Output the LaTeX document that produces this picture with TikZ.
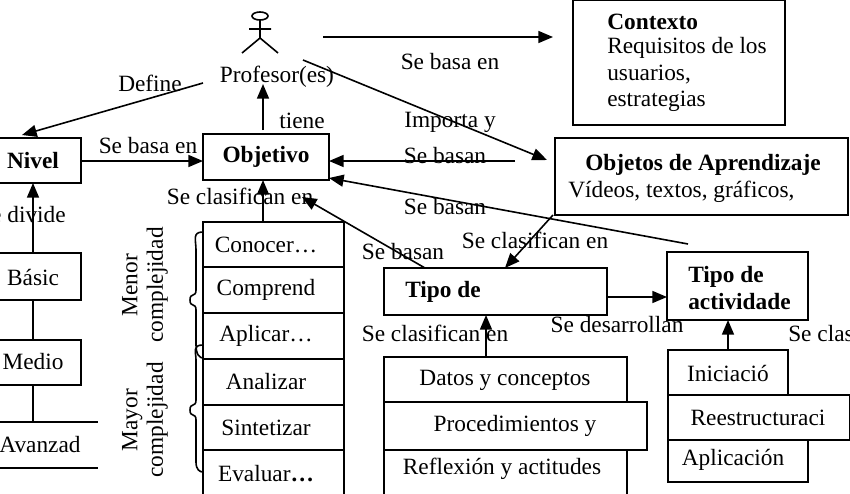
\documentclass[tikz,border=0pt]{standalone}
\usepackage{fontspec}
\setmainfont{Liberation Serif}
\usetikzlibrary{arrows.meta,decorations.pathreplacing}
\begin{document}
\begin{tikzpicture}[x=0.75pt,y=-0.75pt,
  every node/.style={font=\fontsize{17.5}{20}\selectfont, inner sep=0pt},
  box/.style={draw, line width=1.3pt},
  arr/.style={-{Triangle[length=11pt,width=9pt]}, line width=1.2pt},
  ln/.style={line width=1.2pt}]
\useasboundingbox (0,0) rectangle (850,493);
\clip (0,0) rectangle (850,493);
% actor
\draw[ln] (260,16) ellipse (8 and 4);
\draw[ln] (260,20) -- (260,38) (249,29) -- (271,29) (242,53) -- (260,38) -- (278,53);
\node (prof) at (277,77) {Profesor(es)};
% boxes
\draw[box] (-5,138) rectangle (81,183); \node[font=\fontsize{17.5}{20}\selectfont\bfseries] (niv) at (33,161) {Nivel};
\draw[box] (203,134) rectangle (329,180); \node[font=\fontsize{17.5}{20}\selectfont\bfseries] (obj) at (266,157) {Objetivo};
\draw[box] (573,0) rectangle (785,125);
\node[anchor=west] at (607,22) {\bfseries Contexto};
\node[anchor=west] at (607,48) {Requisitos de los};
\node[anchor=west] at (607,75) {usuarios,};
\node[anchor=west] at (607,101) {estrategias};
\draw[box] (555,138) rectangle (848,215);
\node[anchor=west] at (585,165) {\bfseries Objetos de Aprendizaje};
\node[anchor=west] at (568,192) {Vídeos, textos, gráficos,};
\draw[box] (384,268) rectangle (607,315); \node[anchor=west] (tipo) at (405,292) {\bfseries Tipo de};
\draw[box] (667,252) rectangle (808,320);
\node[anchor=west] at (688,277) {\bfseries Tipo de};
\node[anchor=west] at (688,302) {\bfseries actividade};
% bloom stack
\foreach \ya/\yb/\t in {222/267/Conocer…,267/313/Comprend,313/359/Aplicar…,359/405/Analizar,405/450/Sintetizar,450/497/Evaluar\textbf{…}}
  {\draw[box] (203,\ya) rectangle (344,\yb); \node at (266,{(\ya+\yb)/2}) {\t};}
\draw[ln] (203,232) .. controls (192,232) and (196,240) .. (196,250) -- (196,290)
  .. controls (196,298) and (190,292) .. (190,300) .. controls (190,308) and (196,302) .. (196,310) -- (196,345) .. controls (196,355) and (200,358) .. (203,358);
\draw[ln] (203,345) .. controls (192,345) and (196,352) .. (196,360) -- (196,400)
  .. controls (196,408) and (190,402) .. (190,410) .. controls (190,418) and (196,412) .. (196,420) -- (196,462) .. controls (196,470) and (200,472) .. (203,472);
\node[rotate=90, align=center, font=\fontsize{17.5}{19}\selectfont] at (145,285) {Menor\\complejidad};
\node[rotate=90, align=center, font=\fontsize{17.5}{19}\selectfont] at (145,420) {Mayor\\complejidad};
% nivel levels
\draw[box] (-5,253) rectangle (81,300); \node at (33,277) {Básic};
\draw[box] (-5,340) rectangle (81,385); \node at (33,362) {Medio};
\draw[ln] (-5,422) -- (98,422) (-5,468) -- (98,468);
\node at (40,445) {Avanzad};
\draw[ln] (33,300) -- (33,340) (33,385) -- (33,422);
\draw[arr] (33,253) -- (33,183);
\node[anchor=east] at (66,215) {Se divide};
% tipo contents
\draw[box] (384,357) rectangle (627,402); \node at (505,380) {Datos y conceptos};
\draw[box] (384,402) rectangle (647,450); \node at (515,426) {Procedimientos y};
\draw[box] (384,450) rectangle (627,497); \node at (502,469) {Reflexión y actitudes};
\draw[box] (668,350) rectangle (788,395); \node at (728,373) {Iniciació};
\draw[box] (668,395) rectangle (850,440); \node at (758,418) {Reestructuraci};
\draw[box] (668,440) rectangle (808,482); \node at (733,460) {Aplicación};
% connectors
\draw[arr] (203,83) -- (22,135); \node at (150,83) {Define};
\draw[arr] (81,161) -- (203,161); \node at (148,146) {Se basa en};
\draw[arr] (263,130) -- (263,84); \node at (302,121) {tiene};
\draw[arr] (323,37) -- (553,37); \node at (450,62) {Se basa en};
\draw[arr] (303,60) -- (547,160); \node at (450,122) {Importa y};
\draw[arr] (515,161) -- (329,161); \node at (445,156) {Se basan};
\draw[arr] (688,244) -- (329,178); \node at (445,207) {Se basan};
\draw[arr] (553,215) -- (505,268); \node at (535,240) {Se clasifican en};
\draw[arr] (425,268) -- (302,197); \node at (403,252) {Se basan};
\draw[arr] (263,222) -- (263,180); \node at (240,196) {Se clasifican en};
\draw[arr] (607,297) -- (667,297); \node at (617,325) {Se desarrollan};
\draw[arr] (486,357) -- (486,315); \node at (435,333) {Se clasifican en};
\draw[arr] (728,350) -- (728,320); \node[anchor=west] at (788,333) {Se clasifican en};
\end{tikzpicture}
\end{document}
